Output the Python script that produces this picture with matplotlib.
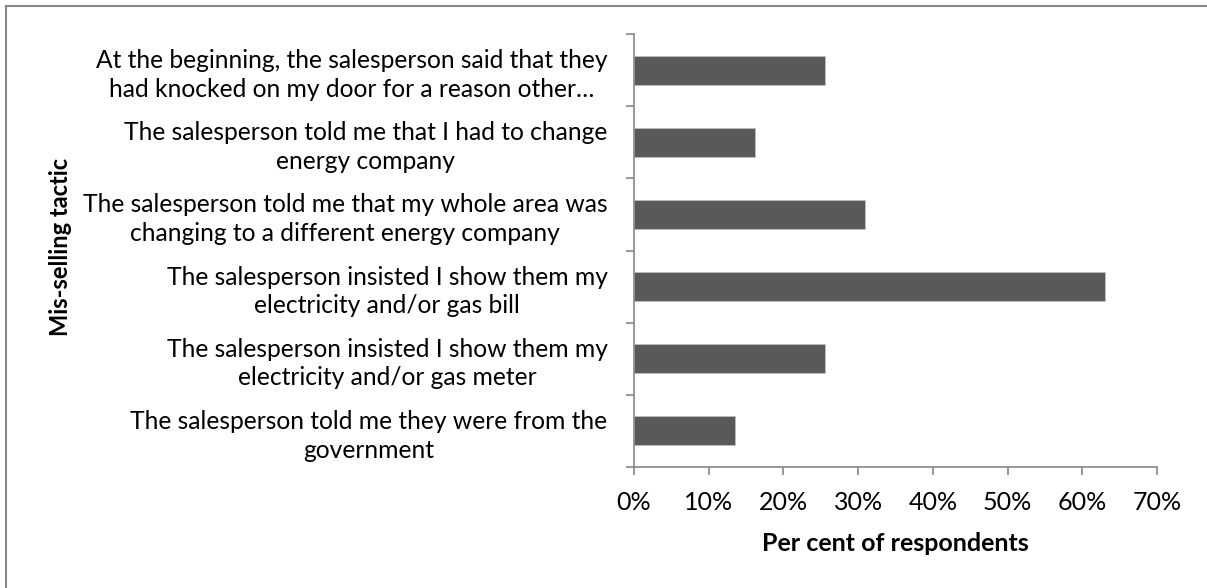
import matplotlib.pyplot as plt
from matplotlib.patches import Rectangle
from matplotlib.ticker import PercentFormatter, FixedLocator

plt.rcParams['font.family'] = ['Lato', 'DejaVu Sans']

tactics = [
    "At the beginning, the salesperson said that they\nhad knocked on my door for a reason other\u2026",
    "The salesperson told me that I had to change\nenergy company",
    "The salesperson told me that my whole area was\nchanging to a different energy company",
    "The salesperson insisted I show them my\nelectricity and/or gas bill",
    "The salesperson insisted I show them my\nelectricity and/or gas meter",
    "The salesperson told me they were from the\ngovernment",
]
share = [25.6, 16.2, 30.9, 63.1, 25.6, 13.5]
x_ticks = [0, 10, 20, 30, 40, 50, 60, 70]

W, H = 1207, 588
fig = plt.figure(figsize=(W / 100, H / 100), dpi=100)
ax = fig.add_axes([634 / W, 1 - 467 / H, (1157 - 634) / W, (467 - 34) / H])

pos = list(range(len(tactics)))
ax.barh(pos, share, height=0.4, color="#595959", edgecolor="#bfbfbf", linewidth=0.6)
ax.set_ylim(len(tactics) - 0.5, -0.5)
ax.set_xlim(0, 70)

ax.set_yticks(pos)
ax.set_yticklabels(tactics, fontsize=17.75, multialignment="center", linespacing=1.3)
ax.yaxis.set_minor_locator(FixedLocator([p - 0.5 for p in pos] + [len(pos) - 0.5]))
ax.tick_params(axis="y", which="major", length=0, pad=19)
ax.tick_params(axis="y", which="minor", length=6, color="#868686", width=1.2)

ax.set_xticks(x_ticks)
ax.xaxis.set_major_formatter(PercentFormatter(decimals=0))
ax.tick_params(axis="x", length=6, color="#868686", width=1.2, labelsize=18, pad=11)

for s in ["top", "right"]:
    ax.spines[s].set_visible(False)
for s in ["left", "bottom"]:
    ax.spines[s].set_color("#868686")
    ax.spines[s].set_linewidth(1.2)

ax.set_xlabel("Per cent of respondents", fontsize=18, fontweight="bold", labelpad=13)
fig.text(60 / W, 1 - 247 / H, "Mis-selling tactic", rotation=90, fontsize=17,
         fontweight="bold", ha="center", va="center")

# outer chart border (only left and top edges fall inside the image)
fig.patches.append(Rectangle((6 / W, -0.1), 1.2, (1 - 6 / H) + 0.1, transform=fig.transFigure,
                             fill=False, edgecolor="#868686", linewidth=1.5))

fig.savefig("out.png", dpi=100)
